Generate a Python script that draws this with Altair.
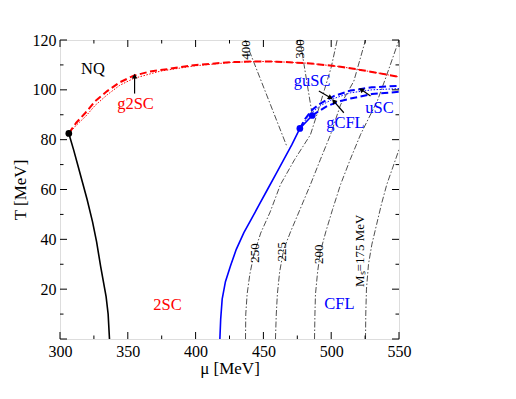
import math
import altair as alt
import pandas as pd

# ---------------- data ----------------
# M_s contour lines (dash-dot)
c400_mu = [436.5, 452.0, 467.5]
c400_T = [120.0, 98.5, 77.0]
c300_mu = [477.0, 480.0, 483.0, 486.0]
c300_T = [120.0, 110.0, 100.0, 90.0]
c250_mu = [436.8, 437.0, 438.0, 440.0, 443.0, 448.0, 455.0, 462.6, 473.0, 484.7, 490.0, 495.0, 500.0, 504.4]
c250_T = [0.0, 10.0, 18.0, 26.0, 34.0, 42.5, 51.0, 62.0, 72.0, 82.0, 91.0, 100.0, 109.0, 120.0]
c225_mu = [458.9, 459.5, 460.3, 462.0, 465.0, 470.0, 477.0, 484.7, 492.0, 499.5, 506.9, 516.7, 525.3]
c225_T = [0.0, 10.0, 18.0, 27.0, 36.0, 43.0, 52.0, 62.0, 72.0, 82.0, 94.0, 103.5, 120.0]
c200_mu = [487.7, 488.0, 488.4, 490.0, 492.0, 496.0, 501.0, 506.9, 514.0, 521.6, 528.0, 534.0, 541.0, 548.7, 550.0]
c200_T = [0.0, 10.0, 18.0, 27.0, 35.0, 43.0, 52.0, 62.0, 72.0, 82.0, 89.0, 95.5, 106.0, 118.0, 120.0]
c175_mu = [525.3, 525.5, 526.0, 527.5, 530.0, 533.5, 537.0, 541.0, 545.5, 550.0]
c175_T = [0.0, 10.0, 20.0, 30.0, 38.0, 46.0, 54.0, 62.0, 69.0, 76.0]

# black solid: NQ / 2SC boundary
black_mu = [306.5, 310.0, 313.0, 316.5, 320.0, 324.0, 327.0, 330.0, 334.0, 335.5, 336.5]
black_T = [82.5, 76.0, 70.0, 63.0, 56.0, 47.0, 39.0, 29.0, 17.0, 10.0, 0.0]

# red dashed (upper) and dotted (lower) g2SC boundaries
red_dash_mu = [306.5, 312.0, 318.8, 326.0, 334.8, 344.0, 354.4, 366.0, 379.0, 398.7, 425.7, 445.0, 460.0, 482.3, 506.9, 521.6, 536.0, 550.0]
red_dash_T = [82.5, 86.8, 90.8, 95.5, 99.5, 103.0, 105.7, 107.3, 108.3, 109.9, 111.1, 111.4, 111.3, 110.7, 109.3, 108.0, 106.6, 105.2]
red_dot_mu = [306.5, 312.0, 318.8, 326.0, 334.8, 344.0, 354.4, 374.0, 398.7, 425.7, 445.0, 460.0, 482.3, 506.9, 521.6, 536.0, 550.0]
red_dot_T = [82.5, 85.8, 89.3, 93.8, 98.0, 101.8, 104.6, 107.5, 109.6, 111.0, 111.4, 111.3, 110.7, 109.3, 108.0, 106.6, 105.2]

# blue solid: 2SC / CFL boundary
blue_mu = [417.9, 418.5, 419.6, 422.0, 425.7, 430.0, 435.6, 441.0, 447.0, 453.0, 459.0, 465.0, 471.0, 476.9, 486.0]
blue_T = [0.0, 8.0, 16.0, 23.0, 29.3, 36.0, 42.7, 48.0, 54.0, 60.0, 66.0, 72.0, 78.0, 84.5, 89.7]

# blue dashed (upper, lower) and dotted
bup_mu = [476.9, 481.0, 486.0, 492.0, 501.9, 514.2, 530.0, 550.0]
bup_T = [84.5, 88.5, 92.0, 94.5, 97.5, 99.7, 101.0, 101.6]
blo_mu = [486.0, 491.0, 497.0, 506.9, 514.2, 530.0, 550.0]
blo_T = [89.7, 91.5, 93.5, 95.5, 96.5, 98.3, 99.2]
bdot_mu = [476.9, 481.0, 486.0, 492.0, 501.9, 514.2, 530.0, 550.0]
bdot_T = [84.5, 87.8, 91.0, 93.6, 96.5, 98.8, 100.0, 100.5]

# critical points
pt_mu = [306.5, 476.9, 486.0]
pt_T = [82.5, 84.5, 89.7]
pt_col = ["black", "#0000ff", "#0000ff"]

# arrows (start -> end)
arr_mu0 = [355.0, 490.9, 509.3, 529.0]
arr_T0 = [98.5, 99.5, 90.8, 97.5]
arr_mu1 = [355.0, 499.5, 501.9, 522.1]
arr_T1 = [105.5, 96.8, 95.5, 100.1]

# phase labels
lab_text = ["NQ", "g2SC", "2SC", "CFL", "guSC", "gCFL", "uSC"]
lab_mu = [324.3, 355.7, 379.3, 506.1, 486.0, 510.5, 535.6]
lab_T = [108.5, 94.5, 13.6, 14.0, 103.4, 86.6, 92.8]
lab_col = ["black", "#ff0000", "#ff0000", "#0000ff", "#0000ff", "#0000ff", "#0000ff"]

# rotated contour labels
rot_text = ["400", "300", "250", "225", "200", "Mₛ=175 MeV"]
rot_mu = [436.8, 477.2, 443.5, 463.9, 490.9, 521.6]
rot_T = [116.0, 116.4, 34.5, 35.0, 34.0, 35.4]

# ticks
x_major = [300, 350, 400, 450, 500, 550]
x_minor = [325, 375, 425, 475, 525]
y_major = [0, 20, 40, 60, 80, 100, 120]
y_minor = [10, 30, 50, 70, 90, 110]
y_labels = [20, 40, 60, 80, 100, 120]

# ---------------- chart ----------------
W, H = 339, 299
FONT = "Liberation Serif"

xs = alt.Scale(domain=[300, 550], nice=False, zero=False)
ys = alt.Scale(domain=[0, 120], nice=False, zero=False)


def lines_df(items):
    rows = []
    for name, mus, ts in items:
        for i, (m, t) in enumerate(zip(mus, ts)):
            rows.append({"line": name, "i": i, "mu": m, "T": t})
    return pd.DataFrame(rows)


X = alt.X("mu:Q", scale=xs, title="μ [MeV]",
          axis=alt.Axis(values=x_major, ticks=False, tickSize=0, domain=False, grid=False,
                        labelFont=FONT, labelFontSize=16, labelColor="black", labelPadding=4,
                        titleFont=FONT, titleFontSize=17, titleFontWeight="normal",
                        titleColor="black", titlePadding=1, labelFlush=False))
Y = alt.Y("T:Q", scale=ys, title="T [MeV]",
          axis=alt.Axis(values=y_labels, ticks=False, tickSize=0, domain=False, grid=False,
                        labelFont=FONT, labelFontSize=16, labelColor="black", labelPadding=4,
                        titleFont=FONT, titleFontSize=17, titleFontWeight="normal",
                        titleColor="black", titleX=-31, labelFlush=False))


def line_layer(items, **mark):
    return alt.Chart(lines_df(items)).mark_line(clip=True, **mark).encode(
        x=X, y=Y, detail="line:N", order="i:Q")


contours = line_layer([("400", c400_mu, c400_T), ("300", c300_mu, c300_T),
                       ("250", c250_mu, c250_T), ("225", c225_mu, c225_T),
                       ("200", c200_mu, c200_T), ("175", c175_mu, c175_T)],
                      color="#222222", strokeWidth=0.8, strokeDash=[6, 2, 1.5, 2])
black_line = line_layer([("b", black_mu, black_T)], color="black", strokeWidth=1.6)
red_dot = line_layer([("rd", red_dot_mu, red_dot_T)], color="#ff0000", strokeWidth=1.0, strokeDash=[1.5, 1.5])
red_dash = line_layer([("rD", red_dash_mu, red_dash_T)], color="#ff0000", strokeWidth=2.0, strokeDash=[7, 3.5])
blue_line = line_layer([("bl", blue_mu, blue_T)], color="#0000ff", strokeWidth=1.6)
blue_dot = line_layer([("bd", bdot_mu, bdot_T)], color="#0000ff", strokeWidth=1.0, strokeDash=[1.5, 1.5])
blue_dash = line_layer([("bu", bup_mu, bup_T), ("bo", blo_mu, blo_T)],
                       color="#0000ff", strokeWidth=2.0, strokeDash=[7, 3.5])

pts = alt.Chart(pd.DataFrame({"mu": pt_mu, "T": pt_T, "c": pt_col})).mark_circle(
    size=45, opacity=1).encode(x=X, y=Y, color=alt.Color("c:N", scale=None))

# arrows
kx, ky = W / 250.0, H / 120.0
ang = []
for a0, b0, a1, b1 in zip(arr_mu0, arr_T0, arr_mu1, arr_T1):
    dx = (a1 - a0) * kx
    dy = (b1 - b0) * ky
    ang.append(math.degrees(math.atan2(dx, dy)) % 360)
arr_rows = []
for k in range(len(arr_mu0)):
    arr_rows.append({"line": k, "i": 0, "mu": arr_mu0[k], "T": arr_T0[k]})
    arr_rows.append({"line": k, "i": 1, "mu": arr_mu1[k], "T": arr_T1[k]})
arrow_shafts = alt.Chart(pd.DataFrame(arr_rows)).mark_line(color="black", strokeWidth=1.2).encode(
    x=X, y=Y, detail="line:N", order="i:Q")
arrow_heads = alt.Chart(pd.DataFrame({"mu": arr_mu1, "T": arr_T1, "a": ang})).mark_point(
    shape="triangle-up", filled=True, size=32, color="black", opacity=1).encode(
    x=X, y=Y, angle=alt.Angle("a:Q", scale=None))

labels = alt.Chart(pd.DataFrame({"mu": lab_mu, "T": lab_T, "t": lab_text, "c": lab_col})).mark_text(
    font=FONT, fontSize=16.5, baseline="middle", align="center").encode(
    x=X, y=Y, text="t:N", color=alt.Color("c:N", scale=None))

rot_labels = alt.Chart(pd.DataFrame({"mu": rot_mu, "T": rot_T, "t": rot_text})).mark_text(
    font=FONT, fontSize=13, baseline="middle", align="center", angle=270, color="black").encode(
    x=X, y=Y, text="t:N")


def xticks(vals, length):
    d = pd.DataFrame({"mu": vals})
    bot = alt.Chart(d).mark_rule(color="black", strokeWidth=1).encode(
        x=X, y=alt.value(H), y2=alt.value(H - length))
    top = alt.Chart(d).mark_rule(color="black", strokeWidth=1).encode(
        x=X, y=alt.value(0), y2=alt.value(length))
    return [bot, top]


def yticks(vals, length):
    d = pd.DataFrame({"T": vals})
    lef = alt.Chart(d).mark_rule(color="black", strokeWidth=1).encode(
        y=Y, x=alt.value(0), x2=alt.value(length))
    rig = alt.Chart(d).mark_rule(color="black", strokeWidth=1).encode(
        y=Y, x=alt.value(W), x2=alt.value(W - length))
    return [lef, rig]


tick_layers = xticks(x_major, 7) + xticks(x_minor, 3.5) + yticks(y_major, 7) + yticks(y_minor, 3.5)

chart = alt.layer(
    contours, red_dot, red_dash, black_line, blue_dot, blue_dash, blue_line,
    arrow_shafts, arrow_heads, pts, labels, rot_labels, *tick_layers
).properties(
    width=W, height=H,
    autosize=alt.AutoSizeParams(type="none"),
    padding={"left": 52, "top": 32, "right": 40, "bottom": 50},
).configure_view(stroke="black", strokeWidth=1).configure(background="white")

chart.save("out.html", embed_options={"renderer": "svg", "actions": False})
